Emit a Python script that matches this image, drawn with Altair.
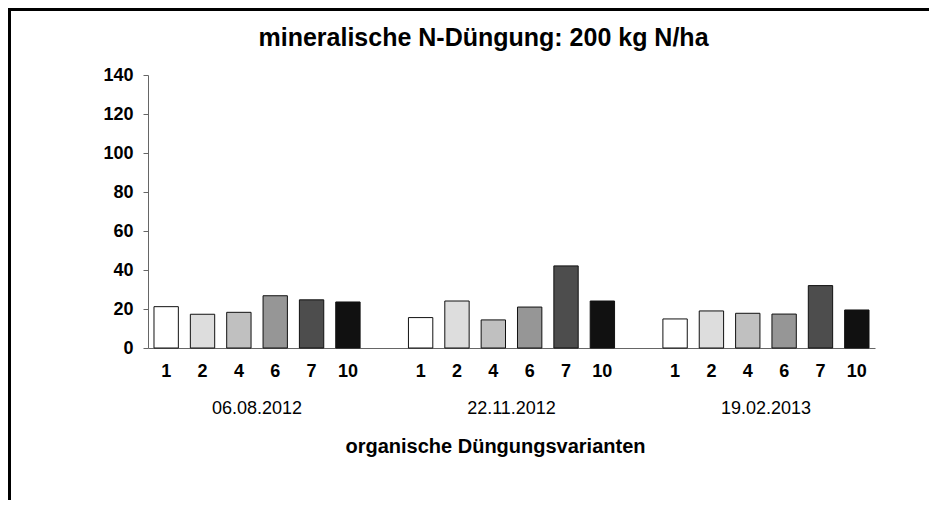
import altair as alt
import pandas as pd

# ---- data ----
dates = ["06.08.2012", "22.11.2012", "19.02.2013"]
prefixes = ["a", "b", "c"]
variants = ["1", "2", "4", "6", "7", "10"]
values_0608 = [21.2, 17.3, 18.3, 26.8, 24.7, 23.6]
values_2211 = [15.6, 24.1, 14.4, 21.0, 42.1, 24.1]
values_1902 = [14.9, 19.0, 17.8, 17.4, 32.0, 19.5]
grey_shades = ["#ffffff", "#dddddd", "#c0c0c0", "#969696", "#4d4d4d", "#111111"]
y_ticks = [0, 20, 40, 60, 80, 100, 120, 140]

title_text = "mineralische N-Düngung: 200 kg N/ha"
x_title = "organische Düngungsvarianten"

series = [values_0608, values_2211, values_1902]
rows = []
for p, d, vals in zip(prefixes, dates, series):
    for v, val in zip(variants, vals):
        rows.append({"slot": p + v, "variant": v, "date": d, "value": val})
df = pd.DataFrame(rows)

# slot domain with an empty slot between the date groups
slot_domain = []
for i, p in enumerate(prefixes):
    slot_domain += [p + v for v in variants]
    if i < len(prefixes) - 1:
        slot_domain.append("gap" + str(i))

date_df = pd.DataFrame({"slot": [p + "4" for p in prefixes], "date": dates})

FONT = "Liberation Sans"
W, H = 727, 273

xscale = alt.Scale(domain=slot_domain, paddingInner=0, paddingOuter=0)

bars = alt.Chart(df).mark_bar(
    width=alt.RelativeBandSize(0.67), stroke="#111111", strokeWidth=1
).encode(
    x=alt.X(
        "slot:N",
        scale=xscale,
        sort=slot_domain,
        axis=alt.Axis(
            title=x_title,
            labelExpr="indexof(datum.value, 'gap') == 0 ? '' : substring(datum.value, 1)",
            labelAngle=0,
            ticks=False,
            tickSize=0,
            labelPadding=14,
            labelFont=FONT,
            labelFontSize=18,
            labelFontWeight="bold",
            labelColor="#000000",
            domainColor="#666666",
            domainWidth=1,
            titleFont=FONT,
            titleFontSize=20,
            titleFontWeight="bold",
            titleColor="#000000",
            titleX=347,
            titleY=98,
            titleAlign="center",
            titleBaseline="middle",
            grid=False,
        ),
    ),
    y=alt.Y(
        "value:Q",
        scale=alt.Scale(domain=[0, 140], nice=False),
        axis=alt.Axis(
            title=None,
            values=y_ticks,
            grid=False,
            tickSize=5,
            tickColor="#666666",
            domainColor="#666666",
            labelPadding=10,
            labelFont=FONT,
            labelFontSize=18,
            labelFontWeight="bold",
            labelColor="#000000",
        ),
    ),
    color=alt.Color(
        "variant:N",
        scale=alt.Scale(domain=variants, range=grey_shades),
        legend=None,
    ),
)

date_labels = alt.Chart(date_df).mark_text(
    font=FONT, fontSize=18, color="#000000", baseline="middle", align="center"
).encode(
    x=alt.X("slot:N", scale=xscale, sort=slot_domain, bandPosition=1),
    y=alt.value(H + 61),
    text="date:N",
)

frame_df = pd.DataFrame({"k": [0]})
frame_left = alt.Chart(frame_df).mark_rule(color="#000000", strokeWidth=4).encode(
    x=alt.value(-139), y=alt.value(-67), y2=alt.value(H + 160)
)
frame_top = alt.Chart(frame_df).mark_rule(color="#000000", strokeWidth=4).encode(
    y=alt.value(-66), x=alt.value(-140), x2=alt.value(W + 60)
)

chart = alt.layer(bars, date_labels, frame_left, frame_top).properties(
    width=W,
    height=H,
    title=alt.TitleParams(
        title_text,
        font=FONT,
        fontSize=25,
        fontWeight="bold",
        color="#000000",
        anchor="middle",
        frame="group",
        baseline="alphabetic",
        dx=-28,
        dy=81,
        offset=16,
    ),
    autosize=alt.AutoSizeParams(type="none"),
    padding={"left": 140, "top": 67, "right": 54, "bottom": 152},
).configure(background="#ffffff").configure_view(stroke=None)

chart.save("out.html", embed_options={"renderer": "svg", "actions": False})
